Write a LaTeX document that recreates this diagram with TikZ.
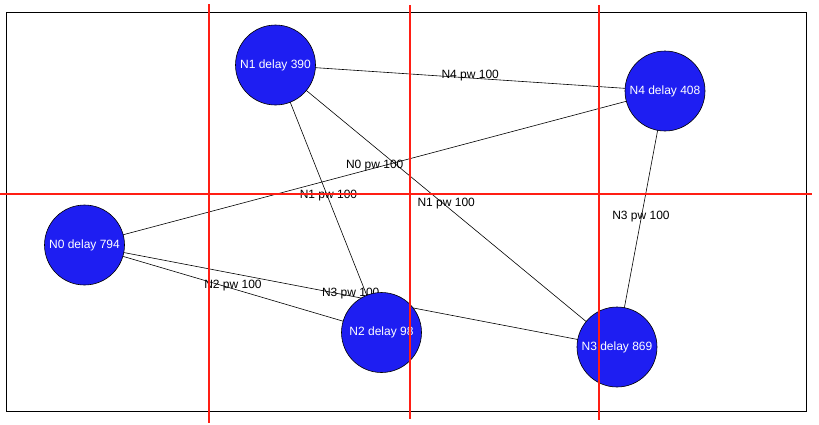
\documentclass[tikz,border=0pt]{standalone}
\usepackage{fontspec}
\setmainfont{Liberation Sans}
\begin{document}
\begin{tikzpicture}[x=1pt,y=-1pt,
  peer/.style={circle,draw=black,line width=0.6pt,fill={rgb,255:red,30;green,30;blue,242},
    minimum size=80pt,inner sep=0pt,text=white,font=\fontsize{12}{14}\selectfont},
  link/.style={draw=black,line width=0.6pt},
  lbl/.style={anchor=base,inner sep=0pt,font=\fontsize{12}{14}\selectfont},
  grid/.style={draw={rgb,255:red,255;green,30;blue,20},line width=1.8pt}]
\useasboundingbox (0,0) rectangle (819,424);
\fill[white] (0,0) rectangle (819,424);
% outer frame
\draw[line width=1pt] (6,12) rectangle (806,411);
% nodes
\coordinate (c0) at (84.5,245);
\coordinate (c1) at (275.5,65);
\coordinate (c2) at (381.5,332.5);
\coordinate (c3) at (617,347);
\coordinate (c4) at (665,91);
% links
\draw[link] (c1) -- (c4) node[lbl,pos=0.5] {N4 pw 100};
\draw[link] (c0) -- (c4) node[lbl,pos=0.5] {N0 pw 100};
\draw[link] (c1) -- (c2) node[lbl,pos=0.5] {N1 pw 100};
\draw[link] (c1) -- (c3) node[lbl,pos=0.5] {N1 pw 100};
\draw[link] (c4) -- (c3) node[lbl,pos=0.5] {N3 pw 100};
\draw[link] (c0) -- (c2) node[lbl,pos=0.5] {N2 pw 100};
\draw[link] (c0) -- (c3) node[lbl,pos=0.5] {N3 pw 100};
\node[peer] (n0) at (c0) {N0 delay 794};
\node[peer] (n1) at (c1) {N1 delay 390};
\node[peer] (n2) at (c2) {N2 delay 98};
\node[peer] (n3) at (c3) {N3 delay 869};
\node[peer] (n4) at (c4) {N4 delay 408};
% red partition lines
\coordinate (v1a) at (209,4);   \coordinate (v1b) at (209,423);
\coordinate (v2a) at (410,5);   \coordinate (v2b) at (410,419);
\coordinate (v3a) at (599,5);   \coordinate (v3b) at (599,420);
\coordinate (h1a) at (0,194);   \coordinate (h1b) at (812,194);
\draw[grid] (v1a) -- (v1b);
\draw[grid] (v2a) -- (v2b);
\draw[grid] (v3a) -- (v3b);
\draw[grid] (h1a) -- (h1b);
\end{tikzpicture}
\end{document}
